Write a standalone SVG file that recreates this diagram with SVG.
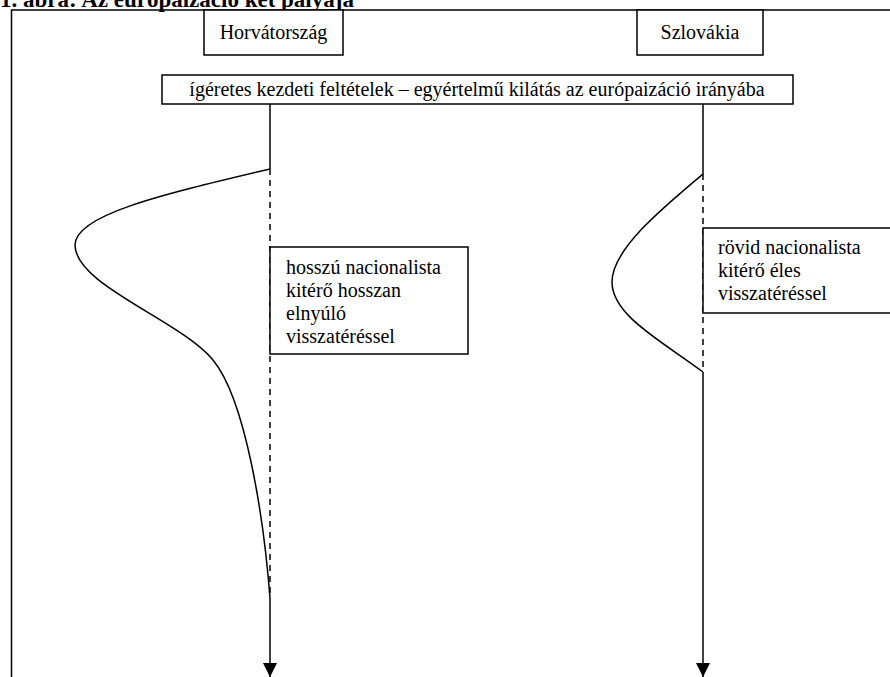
<svg xmlns="http://www.w3.org/2000/svg" width="890" height="677" viewBox="0 0 890 677">
<defs>
<style>
text{font-family:"Liberation Serif","Times New Roman",serif;font-size:20px;fill:#000}
.title{font-weight:bold;font-size:23px}
.box{fill:#fff;stroke:#000;stroke-width:1.5}
.ln{fill:none;stroke:#000;stroke-width:1.5}
.dash{fill:none;stroke:#000;stroke-width:1.5;stroke-dasharray:6 5}
</style>
<marker id="arr" viewBox="0 0 10 10" refX="10" refY="5" markerUnits="userSpaceOnUse" markerWidth="15" markerHeight="14" orient="auto">
<path d="M0,0 L10,5 L0,10 Z" fill="#000"/>
</marker>
</defs>
<rect width="890" height="677" fill="#fff"/>
<text class="title" x="0" y="7">1. ábra: Az európaizáció két pályája</text>
<path class="ln" d="M11.5,677 V10 H890"/>
<g id="connectors">
<line class="ln" x1="270" y1="104" x2="270" y2="169"/>
<line class="dash" x1="270" y1="169" x2="270" y2="598"/>
<path class="ln" d="M270,169 C160,195 75,215 75,245 C75,285 180,320 213,360 S264,520 270,598"/>
<line class="ln" x1="270" y1="598" x2="270" y2="677" marker-end="url(#arr)"/>
<line class="ln" x1="703" y1="104" x2="703" y2="174"/>
<line class="dash" x1="703" y1="174" x2="703" y2="372"/>
<path class="ln" d="M703,174 C660,210 612,250 612,282 C612,315 660,340 703,372"/>
<line class="ln" x1="703" y1="372" x2="703" y2="677" marker-end="url(#arr)"/>
</g>
<g id="horvatorszag">
<rect class="box" x="204" y="10" width="139" height="45"/>
<text x="273.5" y="39" text-anchor="middle">Horvátország</text>
</g>
<g id="szlovakia">
<rect class="box" x="637" y="10" width="126" height="45"/>
<text x="700" y="39" text-anchor="middle">Szlovákia</text>
</g>
<g id="kezdeti">
<rect class="box" x="162" y="75" width="631" height="29"/>
<text x="477" y="96" text-anchor="middle">ígéretes kezdeti feltételek – egyértelmű kilátás az európaizáció irányába</text>
</g>
<g id="hosszu">
<rect class="box" x="270" y="247" width="198" height="107"/>
<text x="286" y="274">hosszú nacionalista</text>
<text x="286" y="297">kitérő hosszan</text>
<text x="286" y="320">elnyúló</text>
<text x="286" y="343">visszatéréssel</text>
</g>
<g id="rovid">
<rect class="box" x="703" y="228" width="200" height="85"/>
<text x="718" y="254">rövid nacionalista</text>
<text x="718" y="277">kitérő éles</text>
<text x="718" y="300">visszatéréssel</text>
</g>
</svg>
